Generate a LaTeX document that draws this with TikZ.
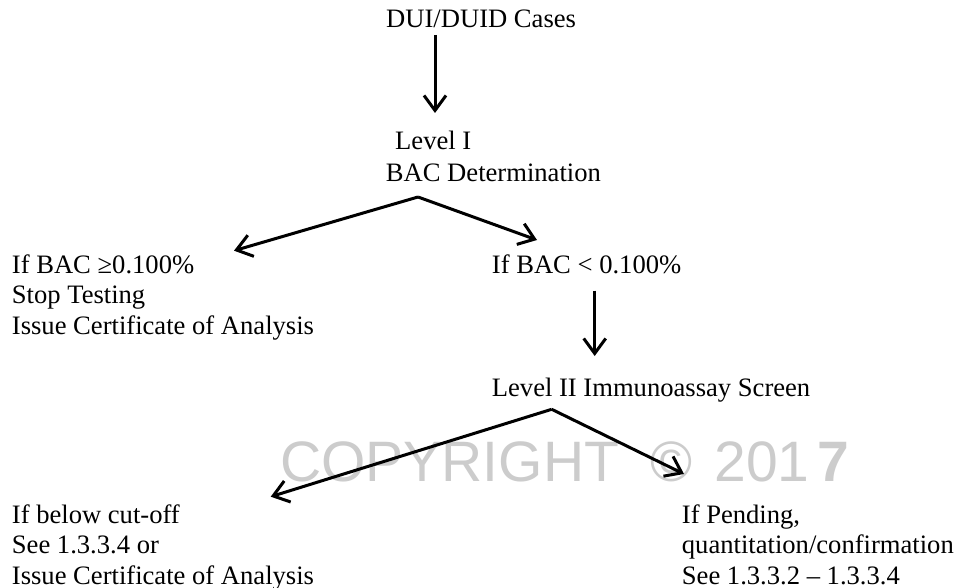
\documentclass[tikz,border=0pt]{standalone}
\usepackage{fontspec}
\setmainfont{Liberation Serif}
\newfontfamily\wmfont{Liberation Sans}
\usetikzlibrary{arrows.meta}
\begin{document}
\begin{tikzpicture}[x=1pt,y=-1pt,
  txt/.style={anchor=base west,inner sep=0pt,font=\fontsize{26.6}{30.6}\selectfont},
  arr/.style={line width=3pt,-{Straight Barb[length=15pt,width=22pt,line width=3pt]}},
  wm/.style={anchor=base west,inner sep=0pt,text=black!20,font=\wmfont\fontsize{57}{60}\selectfont}]
\useasboundingbox (0,0) rectangle (959,588);
\fill[white] (0,0) rectangle (959,588);
% watermark
\node[wm] (wmark) at (280,481) {COPYRIGHT\ \ ©\hspace{6pt} 201\hspace{8pt}\textbf{7}};
% texts
\node[txt] (dui) at (386,27.3) {DUI/DUID Cases};
\node[txt] (lv1) at (395,150) {Level I};
\node[txt] (bac) at (385.7,181.7) {BAC Determination};
\node[txt] (ge1) at (11.7,273) {If BAC ≥0.100\%};
\node[txt] (ge2) at (11.7,304) {Stop Testing};
\node[txt] (ge3) at (11.7,334.5) {Issue Certificate of Analysis};
\node[txt] (lt1) at (491.7,273.5) {If BAC < 0.100\%};
\node[txt] (lv2) at (491.7,396.7) {Level II Immunoassay Screen};
\node[txt] (bl1) at (11.7,523) {If below cut-off};
\node[txt] (bl2) at (11.7,553.5) {See 1.3.3.4 or};
\node[txt] (bl3) at (11.7,584) {Issue Certificate of Analysis};
\node[txt] (pe1) at (681.7,523) {If Pending,};
\node[txt] (pe2) at (681.7,553.5) {quantitation/confirmation};
\node[txt] (pe3) at (681.7,584) {See 1.3.3.2 -- 1.3.3.4};
% connector points
\coordinate (a1s) at (435,35);
\coordinate (a1e) at (435,113);
\coordinate (apex1) at (418,197);
\coordinate (tipL1) at (234,250.7);
\coordinate (tipR1) at (537,240);
\coordinate (a2s) at (594.7,290.7);
\coordinate (a2e) at (594.7,356);
\coordinate (apex2) at (551.7,409.3);
\coordinate (tipL2) at (270.7,496.7);
\coordinate (tipR2) at (684,474);
% connectors
\draw[arr] (a1s) -- (a1e);
\draw[arr] (apex1) -- (tipL1);
\draw[arr] (apex1) -- (tipR1);
\draw[arr] (a2s) -- (a2e);
\draw[arr] (apex2) -- (tipL2);
\draw[arr] (apex2) -- (tipR2);
\end{tikzpicture}
\end{document}
